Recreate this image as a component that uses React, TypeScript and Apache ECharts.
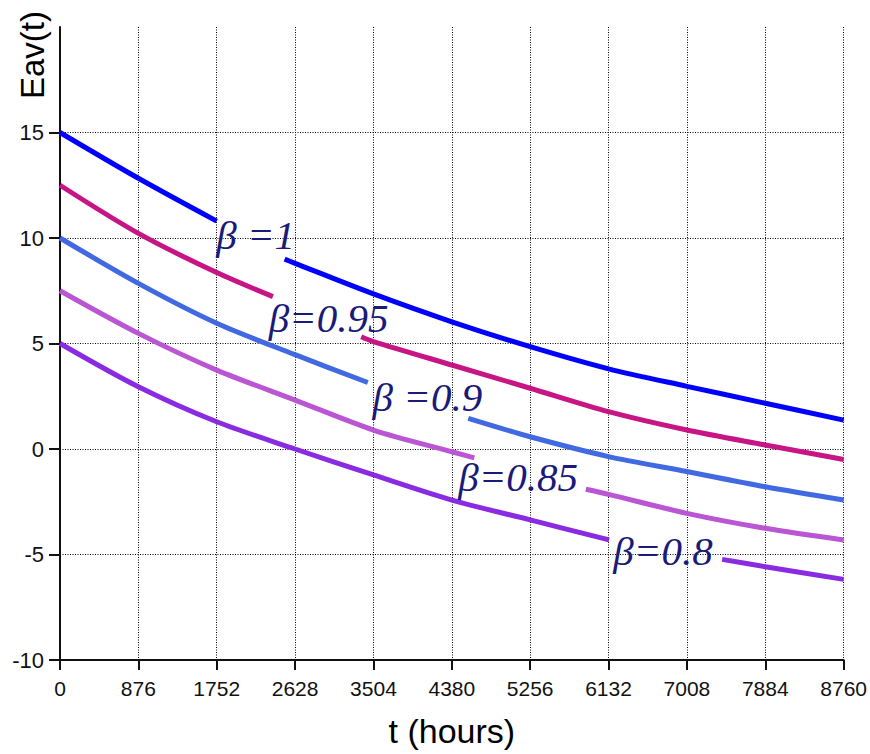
import React, { useEffect, useRef } from "react";
import * as echarts from "echarts";

// ---- Data (t in hours, E_av(t)) ----
const xTicks = [0, 876, 1752, 2628, 3504, 4380, 5256, 6132, 7008, 7884, 8760];
const yLabelValues = [-10, -5, 0, 5, 10, 15];

const beta100Seg1 = [[0, 15], [876, 12.83], [1752, 10.8]];
const beta100Seg2 = [[2511, 9.0], [2628, 8.8], [3504, 7.35], [4380, 6.03], [5256, 4.85], [6132, 3.8], [7008, 2.97], [7884, 2.17], [8760, 1.37]];

const beta095Seg1 = [[0, 12.5], [876, 10.22], [1752, 8.36], [2380, 7.22]];
const beta095Seg2 = [[3367, 5.32], [3504, 5.09], [4380, 3.98], [5256, 2.88], [6132, 1.77], [7008, 0.9], [7884, 0.19], [8760, -0.5]];

const beta090Seg1 = [[0, 10], [876, 7.85], [1752, 5.96], [2628, 4.47], [3441, 3.15]];
const beta090Seg2 = [[4564, 1.45], [5256, 0.58], [6132, -0.36], [7008, -1.07], [7884, -1.79], [8760, -2.42]];

const beta085Seg1 = [[0, 7.5], [876, 5.48], [1752, 3.74], [2628, 2.32], [3504, 0.9], [4380, -0.13], [4631, -0.42]];
const beta085Seg2 = [[5878, -1.91], [6132, -2.15], [7008, -3.05], [7884, -3.76], [8760, -4.31]];

const beta080Seg1 = [[0, 5], [876, 2.95], [1752, 1.29], [2628, 0.0], [3504, -1.23], [4380, -2.42], [5256, -3.36], [6138, -4.31]];
const beta080Seg2 = [[7402, -5.23], [7884, -5.58], [8760, -6.18]];

const seriesNames = ["β =1", "β=0.95", "β =0.9", "β=0.85", "β=0.8"];
const seriesColors = ["#0000FF", "#C71585", "#4169E1", "#BA55D3", "#8A2BE2"];
const labelCoords = [[2187, 10.14], [3002, 6.21], [4107, 2.46], [5122, -1.33], [6741, -4.83]];

const segments = [
  [beta100Seg1, beta100Seg2],
  [beta095Seg1, beta095Seg2],
  [beta090Seg1, beta090Seg2],
  [beta085Seg1, beta085Seg2],
  [beta080Seg1, beta080Seg2],
];

export default function App() {
  const ref = useRef<HTMLDivElement>(null);

  useEffect(() => {
    if (!ref.current) return;
    const chart = echarts.init(ref.current, null, { renderer: "svg" });

    const series = segments.map((segs, i) => {
      const gapT = (segs[0][segs[0].length - 1][0] + segs[1][0][0]) / 2;
      const data: any[] = [...segs[0], [gapT, "-"], ...segs[1]];
      return {
        name: seriesNames[i],
        type: "line",
        data,
        smooth: 0.3,
        connectNulls: false,
        showSymbol: false,
        symbol: "none",
        lineStyle: { color: seriesColors[i], width: 5 },
        itemStyle: { color: seriesColors[i] },
        markPoint: {
          symbol: "circle",
          symbolSize: 0,
          silent: true,
          label: {
            show: true,
            formatter: seriesNames[i],
            fontFamily: "'Liberation Serif', 'Times New Roman', serif",
            fontStyle: "italic",
            fontSize: 41,
            color: "#1a1a78",
            align: "center",
            verticalAlign: "middle",
            position: "inside",
          },
          data: [{ coord: labelCoords[i], value: 0 }],
        },
      };
    });

    chart.setOption({
      animation: false,
      backgroundColor: "#ffffff",
      grid: { left: 60, right: 25, top: 27, bottom: 94, containLabel: false },
      xAxis: {
        type: "value",
        min: 0,
        max: 8760,
        interval: 876,
        name: "t (hours)",
        nameLocation: "middle",
        nameGap: 54,
        nameTextStyle: { fontFamily: "'Liberation Sans', Arial, sans-serif", fontSize: 34, color: "#000" },
        axisLine: { show: true, onZero: false, lineStyle: { color: "#111", width: 2 } },
        axisTick: { show: true, length: 10, lineStyle: { color: "#111", width: 2 } },
        axisLabel: {
          margin: 18,
          fontFamily: "'Liberation Sans', Arial, sans-serif",
          fontSize: 21,
          color: "#111",
          formatter: (v: number) => (xTicks.includes(v) ? String(v) : ""),
        },
        splitLine: { show: true, lineStyle: { color: "#000", width: 1, type: [1, 1.5] } },
      },
      yAxis: {
        type: "value",
        min: -10,
        max: 20,
        interval: 5,
        axisLine: { show: true, onZero: false, lineStyle: { color: "#111", width: 2 } },
        axisTick: { show: true, length: 11, lineStyle: { color: "#111", width: 2 }, customValues: yLabelValues },
        axisLabel: {
          margin: 16,
          fontFamily: "'Liberation Sans', Arial, sans-serif",
          fontSize: 22,
          color: "#111",
          customValues: yLabelValues,
        },
        splitLine: { show: true, lineStyle: { color: "#000", width: 1, type: [1, 1.5] } },
      },
      graphic: [
        {
          type: "text",
          x: 32,
          y: 55,
          rotation: Math.PI / 2,
          style: {
            text: "Eav(t)",
            fontFamily: "'Liberation Sans', Arial, sans-serif",
            fontSize: 33,
            fill: "#000",
            align: "center",
            verticalAlign: "middle",
          },
        },
      ],
      series,
    });

    return () => chart.dispose();
  }, []);

  return (
    <div
      ref={ref}
      style={{ position: "fixed", left: 0, top: 0, width: 870, height: 754, background: "#fff" }}
    />
  );
}
